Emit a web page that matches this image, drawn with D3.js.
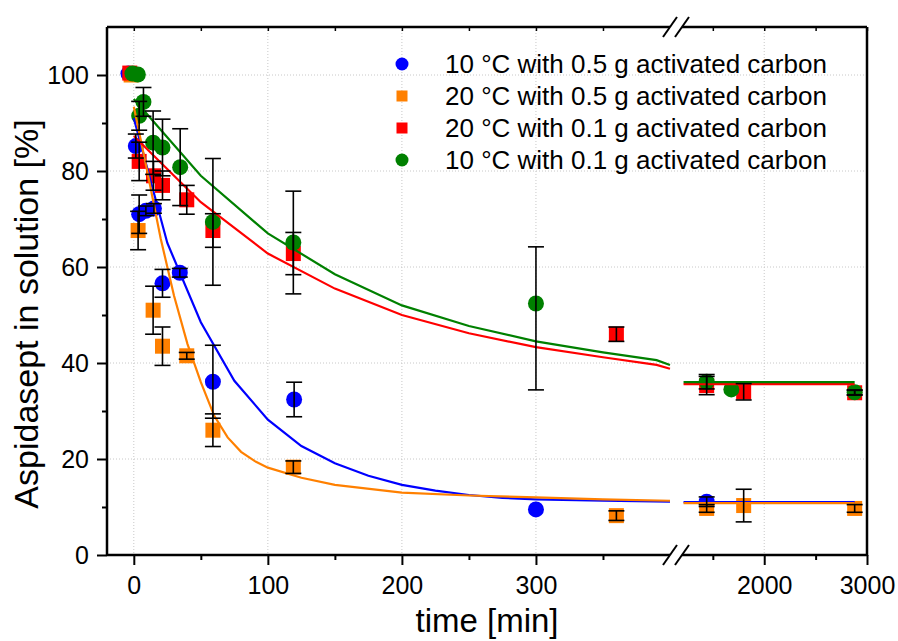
<!DOCTYPE html>
<html>
<head>
<meta charset="utf-8">
<script src="https://cdn.jsdelivr.net/npm/d3@7"></script>
<style>
  body { margin: 0; background: #fff; }
  svg text { font-family: "Liberation Sans", Arial, sans-serif; fill: #000; }
</style>
</head>
<body>
<svg id="chart" width="898" height="641"></svg>
<script>
// series names (legend order)
const seriesNames = [
  "10 °C with 0.5 g activated carbon",
  "20 °C with 0.5 g activated carbon",
  "20 °C with 0.1 g activated carbon",
  "10 °C with 0.1 g activated carbon"
];
const seriesColors = ["#0000ff", "#ff8000", "#ff0000", "#008000"];
const seriesShapes = ["circle", "square", "square", "circle"];

// measured points: time [min], value [%], error (up / down)
const blueT = [-4, 1.5, 4, 9, 15, 21.4, 34.3, 59, 119.6, 300, 1440];
const blueV = [100.3, 85.2, 71, 71.7, 72.2, 56.6, 58.8, 36.1, 32.4, 9.5, 11.1];
const blueE = [0, 2.5, 4, 1, 1, 2.9, 0.9, 7.6, 3.6, 0, 1];

const orangeT = [-2, 3.2, 14.4, 21.4, 39.5, 59, 119, 360, 1440, 1800, 2880];
const orangeV = [100, 67.6, 51, 43.5, 41.5, 26, 18.3, 8.2, 9.7, 10.3, 9.7];
const orangeE = [0, 4, 5, 4, 0.7, 3.4, 1.3, 1, 0.8, 3.4, 0.8];

const redT = [-3, 4, 14.7, 21.4, 39.5, 59, 119, 360, 1440, 1800, 2880];
const redV = [100.4, 82, 79, 77, 74, 67.6, 62.8, 46, 35.3, 34, 33.8];
const redE = [0, 4, 3, 3, 3, 3.5, 4.4, 1.5, 1.9, 1.7, 0.5];

const greenT = [-1, 3, 4, 7.2, 14.4, 21.4, 34.6, 59, 119, 300, 1440, 1680, 2880];
const greenV = [100.3, 100.1, 91.5, 94.4, 85.9, 84.9, 80.8, 69.4, 65.1, 52.4, 36.1, 34.5, 33.9];
const greenE = [0, 0, 3, 3, 6.6, 5.9, 8, 13.2, 10.7, 11.8, 1.5, 0, 0.5];
const greenEDown = [0, 0, 3, 3, 6.6, 5.9, 8, 13.2, 10.7, 18, 1.5, 0, 0.5];

// fitted curves
const blueFitT = [0, 25, 50, 75, 100, 125, 150, 175, 200, 225, 250, 275, 300, 350, 400, 1215, 2880];
const blueFitV = [91, 65, 48.5, 36.3, 28.2, 22.7, 19.1, 16.5, 14.6, 13.4, 12.5, 11.9, 11.6, 11.3, 11.1, 11, 11];
const orangeFitT = [0, 10, 20, 30, 40, 50, 60, 70, 80, 90, 100, 125, 150, 200, 250, 300, 350, 400, 1215, 2880];
const orangeFitV = [93.4, 80, 66, 54, 44, 36, 29, 24.5, 21.5, 19.6, 18.2, 16.1, 14.6, 13, 12.4, 12, 11.6, 11.3, 10.8, 10.8];
const redFitT = [0, 50, 100, 150, 200, 250, 300, 350, 390, 400, 1215, 2880];
const redFitV = [87.3, 73.5, 62.8, 55.5, 50, 46.2, 43.3, 41.2, 39.6, 38.8, 35.6, 35.6];
const greenFitT = [0, 50, 100, 150, 200, 250, 300, 350, 390, 400, 1215, 2880];
const greenFitV = [95, 79, 67, 58.5, 52, 47.7, 44.5, 42.2, 40.6, 39.6, 36, 36];

// axis ticks
const xTicksA = [0, 100, 200, 300];
const xMinorA = [50, 150, 250, 350];
const xTicksB = [2000, 3000];
const xMinorB = [1500, 2500];
const yTicks = [0, 20, 40, 60, 80, 100];
const yMinor = [10, 30, 50, 70, 90];

const series = [
  { t: blueT, v: blueV, e: blueE, ft: blueFitT, fv: blueFitV },
  { t: orangeT, v: orangeV, e: orangeE, ft: orangeFitT, fv: orangeFitV },
  { t: redT, v: redV, e: redE, ft: redFitT, fv: redFitV },
  { t: greenT, v: greenV, e: greenE, eDown: greenEDown, ft: greenFitT, fv: greenFitV }
];

const svg = d3.select("#chart");
const pL = 107, pR = 867, pT = 27, pB = 555;
const breakA = 670, breakB = 682;

// broken x axis: two linear pieces
const xa = d3.scaleLinear().domain([-20, 400]).range([pL, breakA]);
const xb = d3.scaleLinear().domain([1200, 3000]).range([breakB, pR]);
const x = t => t <= 400 ? xa(t) : xb(t);
const y = d3.scaleLinear().domain([0, 110]).range([pB, pT]);

// grid
const grid = svg.append("g").attr("stroke", "#c8c8c8").attr("stroke-width", 1).attr("stroke-dasharray", "1,2");
yTicks.filter(d => d > 0).forEach(d => {
  grid.append("line").attr("x1", pL).attr("x2", pR).attr("y1", y(d)).attr("y2", y(d));
});
xTicksA.forEach(d => {
  grid.append("line").attr("x1", xa(d)).attr("x2", xa(d)).attr("y1", pT).attr("y2", pB);
});
grid.append("line").attr("x1", xb(2000)).attr("x2", xb(2000)).attr("y1", pT).attr("y2", pB);

// y axis
const yAxis = svg.append("g").attr("transform", `translate(${pL},0)`)
  .call(d3.axisLeft(y).tickValues(yTicks).tickSize(10).tickPadding(8));
yAxis.select(".domain").remove();
yAxis.selectAll("text").style("font-size", "25px");
yAxis.selectAll("line").attr("stroke-width", 2);
svg.append("g").attr("transform", `translate(${pL},0)`)
  .call(d3.axisLeft(y).tickValues(yMinor).tickSize(5).tickFormat(""))
  .call(g => g.select(".domain").remove())
  .selectAll("line").attr("stroke-width", 2);

// bottom axis pieces
function bottomAxis(scale, major, minor) {
  const g = svg.append("g").attr("transform", `translate(0,${pB})`)
    .call(d3.axisBottom(scale).tickValues(major).tickSize(10).tickPadding(11).tickFormat(d3.format("d")));
  g.select(".domain").remove();
  g.selectAll("text").style("font-size", "25px");
  g.selectAll("line").attr("stroke-width", 2);
  svg.append("g").attr("transform", `translate(0,${pB})`)
    .call(d3.axisBottom(scale).tickValues(minor).tickSize(5).tickFormat(""))
    .call(g2 => g2.select(".domain").remove())
    .selectAll("line").attr("stroke-width", 2);
  // small inward ticks on top
  svg.append("g").attr("transform", `translate(0,${pT})`)
    .call(d3.axisBottom(scale).tickValues(major.concat(minor)).tickSize(4).tickFormat(""))
    .call(g2 => g2.select(".domain").remove())
    .selectAll("line").attr("stroke-width", 1.5);
}
bottomAxis(xa, xTicksA, xMinorA);
bottomAxis(xb, xTicksB, xMinorB);

// frame with break
const frame = svg.append("g").attr("stroke", "#000").attr("stroke-width", 2.5).attr("fill", "none");
frame.append("line").attr("x1", pL).attr("x2", pL).attr("y1", pT).attr("y2", pB + 1);
frame.append("line").attr("x1", pR).attr("x2", pR).attr("y1", pT).attr("y2", pB + 1);
[pT, pB].forEach(yy => {
  frame.append("line").attr("x1", pL).attr("x2", breakA).attr("y1", yy).attr("y2", yy);
  frame.append("line").attr("x1", breakB).attr("x2", pR).attr("y1", yy).attr("y2", yy);
  frame.append("line").attr("x1", breakA - 7).attr("x2", breakA + 7).attr("y1", yy + 10).attr("y2", yy - 10).attr("stroke-width", 2);
  frame.append("line").attr("x1", breakB - 7).attr("x2", breakB + 7).attr("y1", yy + 10).attr("y2", yy - 10).attr("stroke-width", 2);
});

// markers
function drawMarker(g, shape, color, cx, cy, size) {
  if (shape === "circle") {
    g.append("circle").attr("cx", cx).attr("cy", cy).attr("r", size / 2).attr("fill", color);
  } else {
    g.append("rect").attr("x", cx - size / 2).attr("y", cy - size / 2)
      .attr("width", size).attr("height", size).attr("fill", color);
  }
}
const markG = svg.append("g");
series.forEach((s, i) => {
  s.t.forEach((t, j) => drawMarker(markG, seriesShapes[i], seriesColors[i], x(t), y(s.v[j]), seriesShapes[i] === "circle" ? 16 : 15));
});

// fitted lines (split at the break)
const line = d3.line().x(d => x(d[0])).y(d => y(d[1]));
series.forEach((s, i) => {
  const pts = s.ft.map((t, j) => [t, s.fv[j]]);
  [pts.filter(p => p[0] <= 400), pts.filter(p => p[0] > 400)].forEach(seg => {
    svg.append("path").datum(seg).attr("d", line)
      .attr("fill", "none").attr("stroke", seriesColors[i]).attr("stroke-width", 2.2);
  });
});

// error bars
const errG = svg.append("g").attr("stroke", "#000").attr("stroke-width", 1.6);
series.forEach(s => {
  const down = s.eDown || s.e;
  s.t.forEach((t, j) => {
    if (!s.e[j]) return;
    const cx = x(t), y1 = y(s.v[j] + s.e[j]), y2 = y(s.v[j] - down[j]);
    errG.append("line").attr("x1", cx).attr("x2", cx).attr("y1", y1).attr("y2", y2);
    errG.append("line").attr("x1", cx - 8).attr("x2", cx + 8).attr("y1", y1).attr("y2", y1);
    errG.append("line").attr("x1", cx - 8).attr("x2", cx + 8).attr("y1", y2).attr("y2", y2);
  });
});

// legend
const legend = svg.append("g").attr("transform", "translate(402,64)");
seriesNames.forEach((name, i) => {
  const row = legend.append("g").attr("transform", `translate(0,${i * 32})`);
  drawMarker(row, seriesShapes[i], seriesColors[i], 0, 0, seriesShapes[i] === "circle" ? 13 : 11);
  row.append("text").attr("x", 43).attr("y", 0).attr("dy", "0.35em")
    .style("font-size", "26px").text(name);
});

// axis titles
svg.append("text").attr("x", (pL + pR) / 2).attr("y", 632)
  .attr("text-anchor", "middle").style("font-size", "33px").text("time [min]");
svg.append("text").attr("transform", "translate(38,314) rotate(-90)")
  .attr("text-anchor", "middle").style("font-size", "34px").text("Aspidasept in solution [%]");
</script>
</body>
</html>
